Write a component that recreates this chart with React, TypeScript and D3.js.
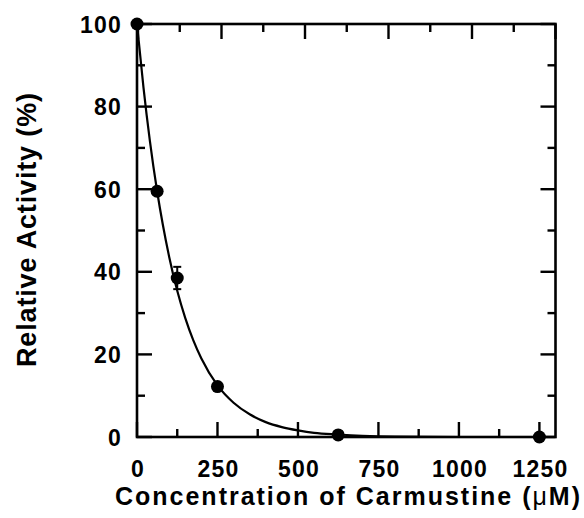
import React from "react";
import * as d3 from "d3";

// Measured data points (concentration µM, relative activity %)
const concentrations = [0, 62.5, 125, 250, 625, 1250];
const activities = [100, 59.5, 38.5, 12.2, 0.5, 0];
const errorLow = [0, 0, 35.8, 0, 0, 0];
const errorHigh = [0, 0, 41.2, 0, 0, 0];

// Fitted curve
const curveX = [0, 20, 40, 62.5, 80, 100, 125, 150, 175, 200, 250, 300, 350, 400, 450, 500, 550, 625, 700, 800, 1000, 1250];
const curveY = [100, 84.7, 71.7, 59.5, 51.5, 43.6, 35.4, 28.8, 23.4, 19.0, 12.5, 8.3, 5.5, 3.6, 2.4, 1.6, 1.0, 0.6, 0.3, 0.1, 0, 0];

const xTickLabels = [0, 250, 500, 750, 1000, 1250];
const yTickLabels = [0, 20, 40, 60, 80, 100];
const xMinorTicks = [125, 375, 625, 875, 1125];
const yMinorTicks = [10, 30, 50, 70, 90];

const W = 584;
const H = 518;
const left = 137;
const right = 555.5;
const top = 24;
const bottom = 437;

export default function App() {
  const x = d3.scaleLinear().domain([0, 1300]).range([left, right]);
  const xTop = d3.scaleLinear().domain([0, 1250]).range([left + 1, right]);
  const y = d3.scaleLinear().domain([0, 100]).range([bottom, top]);

  const line = d3
    .line<number>()
    .x((_, i) => x(curveX[i]))
    .y((_, i) => y(curveY[i]))
    .curve(d3.curveMonotoneX);

  const major = 15;
  const minor = 8;
  const font = "'Liberation Sans', Arial, Helvetica, sans-serif";

  return (
    <svg
      width={W}
      height={H}
      style={{ position: "absolute", left: 0, top: 0, background: "#fff" }}
      fontFamily={font}
    >
      <rect x={0} y={0} width={W} height={H} fill="#fff" />
      {/* fit curve */}
      <path d={line(curveY) || ""} fill="none" stroke="#000" strokeWidth={2.2} />

      {/* frame */}
      <rect x={left} y={top} width={right - left} height={bottom - top} fill="none" stroke="#000" strokeWidth={2.6} />

      {/* bottom ticks */}
      {xTickLabels.map((v) => (
        <line key={"bx" + v} x1={x(v)} x2={x(v)} y1={bottom} y2={bottom - major} stroke="#000" strokeWidth={2.4} />
      ))}
      {xMinorTicks.map((v) => (
        <line key={"bmx" + v} x1={x(v)} x2={x(v)} y1={bottom} y2={bottom - minor} stroke="#000" strokeWidth={2.4} />
      ))}
      {/* top ticks */}
      {xTickLabels.map((v) => (
        <line key={"tx" + v} x1={xTop(v)} x2={xTop(v)} y1={top} y2={top + major} stroke="#000" strokeWidth={2.4} />
      ))}
      {xMinorTicks.map((v) => (
        <line key={"tmx" + v} x1={xTop(v)} x2={xTop(v)} y1={top} y2={top + minor} stroke="#000" strokeWidth={2.4} />
      ))}
      {/* left & right ticks */}
      {yTickLabels.map((v) => (
        <g key={"y" + v}>
          <line x1={left} x2={left + major} y1={y(v)} y2={y(v)} stroke="#000" strokeWidth={2.4} />
          <line x1={right} x2={right - major} y1={y(v)} y2={y(v)} stroke="#000" strokeWidth={2.4} />
        </g>
      ))}
      {yMinorTicks.map((v) => (
        <g key={"ym" + v}>
          <line x1={left} x2={left + minor} y1={y(v)} y2={y(v)} stroke="#000" strokeWidth={2.4} />
          <line x1={right} x2={right - minor} y1={y(v)} y2={y(v)} stroke="#000" strokeWidth={2.4} />
        </g>
      ))}

      {/* error bars */}
      {concentrations.map((c, i) =>
        errorHigh[i] > errorLow[i] ? (
          <g key={"e" + i} stroke="#000" strokeWidth={2}>
            <line x1={x(c)} x2={x(c)} y1={y(errorLow[i])} y2={y(errorHigh[i])} />
            <line x1={x(c) - 4} x2={x(c) + 4} y1={y(errorLow[i])} y2={y(errorLow[i])} />
            <line x1={x(c) - 4} x2={x(c) + 4} y1={y(errorHigh[i])} y2={y(errorHigh[i])} />
          </g>
        ) : null
      )}

      {/* points */}
      {concentrations.map((c, i) => (
        <circle key={"p" + i} cx={x(c)} cy={y(activities[i])} r={6.5} fill="#000" />
      ))}

      {/* tick labels */}
      {xTickLabels.map((v) => (
        <text key={"xl" + v} x={x(v) + 1} y={477} textAnchor="middle" fontSize={23} fontWeight="bold" letterSpacing={1.2} fill="#000">
          {v}
        </text>
      ))}
      {yTickLabels.map((v) => (
        <text key={"yl" + v} x={122} y={y(v) + 8.5} textAnchor="end" fontSize={23} fontWeight="bold" letterSpacing={1.2} fill="#000">
          {v}
        </text>
      ))}

      {/* axis titles */}
      <text
        x={(115 + 580) / 2}
        y={505}
        textAnchor="middle"
        fontSize={25}
        fontWeight="bold"
        textLength={465}
        lengthAdjust="spacing"
        fill="#000"
      >
        Concentration of Carmustine (
        <tspan fontWeight="normal">μ</tspan>M)
      </text>
      <text
        transform={`translate(36, ${(93 + 367) / 2}) rotate(-90)`}
        textAnchor="middle"
        fontSize={27}
        fontWeight="bold"
        textLength={274}
        lengthAdjust="spacing"
        fill="#000"
      >
        Relative Activity (%)
      </text>
    </svg>
  );
}
